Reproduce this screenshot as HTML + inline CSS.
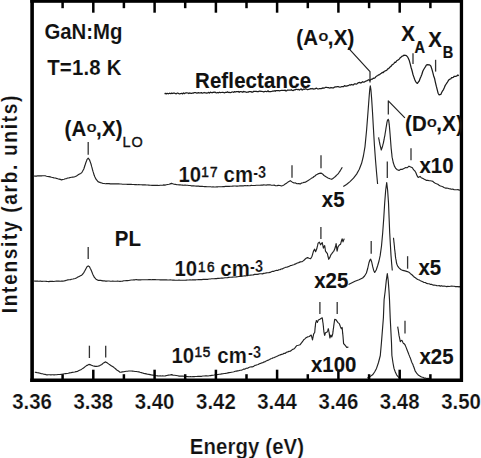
<!DOCTYPE html>
<html><head><meta charset="utf-8"><title>GaN:Mg PL</title>
<style>
html,body{margin:0;padding:0;background:#fff;}
svg{display:block}
text{font-family:"Liberation Sans",Arial,sans-serif;font-weight:bold;font-size:20.4px;fill:#111;stroke:#111;stroke-width:0.12px}
.sup{font-size:13.6px;letter-spacing:1.3px;font-weight:normal;stroke:#111;stroke-width:0.5px}
.supb{font-size:14.5px;font-weight:bold}
.sub{font-size:14.6px;font-weight:bold;stroke-width:0.2px}
.o{font-size:14.4px;font-weight:bold;stroke:#fff;stroke-width:0.3px}
</style></head><body>
<svg width="481" height="458" viewBox="0 0 481 458">
<rect width="481" height="458" fill="#fff"/>
<path d="M164.5,93.6 L165.4,93.4 L166.3,93.9 L167.2,93.3 L168.1,93.8 L169.0,93.5 L169.9,93.2 L170.8,93.7 L171.7,93.1 L172.6,93.5 L173.5,93.1 L174.4,93.1 L175.3,93.5 L176.2,93.9 L177.1,93.1 L178.0,93.2 L178.9,93.6 L179.8,93.9 L180.7,93.5 L181.6,93.3 L182.5,93.9 L183.4,92.9 L184.3,93.7 L185.2,93.1 L186.1,92.9 L187.0,92.9 L187.9,93.0 L188.8,93.6 L189.7,92.9 L190.6,93.3 L191.5,93.3 L192.4,93.0 L193.3,93.2 L194.2,92.6 L195.1,92.6 L196.0,92.7 L196.9,93.2 L197.8,92.9 L198.7,92.7 L199.6,93.0 L200.5,92.8 L201.4,92.6 L202.3,93.2 L203.2,93.0 L204.1,92.5 L205.0,92.8 L205.9,92.8 L206.8,93.1 L207.7,92.9 L208.6,92.4 L209.5,93.1 L210.4,92.2 L211.3,92.5 L212.2,92.8 L213.1,92.2 L214.0,92.5 L214.9,92.0 L215.8,92.7 L216.7,92.8 L217.6,92.5 L218.5,92.8 L219.4,92.2 L220.3,92.6 L221.2,92.5 L222.1,92.4 L223.0,92.3 L223.9,92.7 L224.8,92.8 L225.7,92.3 L226.6,92.4 L227.5,91.8 L228.4,92.5 L229.3,92.4 L230.2,92.7 L231.1,92.5 L232.0,91.9 L232.9,92.0 L233.8,92.3 L234.7,91.6 L235.6,92.0 L236.5,91.7 L237.4,91.6 L238.3,91.5 L239.2,92.3 L240.1,91.6 L241.0,91.7 L241.9,91.8 L242.8,92.3 L243.7,91.4 L244.6,91.8 L245.5,91.9 L246.4,92.3 L247.3,92.2 L248.2,92.2 L249.1,91.5 L250.0,91.7 L250.9,91.6 L251.8,92.1 L252.7,92.2 L253.6,91.3 L254.5,91.3 L255.4,91.3 L256.3,91.3 L257.2,91.6 L258.1,91.6 L259.0,91.3 L259.9,91.0 L260.8,91.4 L261.7,91.3 L262.6,91.5 L263.5,91.9 L264.4,91.6 L265.3,91.4 L266.2,91.5 L267.1,91.5 L268.0,90.8 L268.9,91.7 L269.8,91.6 L270.7,91.6 L271.6,91.5 L272.5,91.1 L273.4,91.1 L274.3,90.7 L275.2,91.3 L276.1,90.6 L277.0,90.6 L277.9,90.7 L278.8,90.7 L279.7,90.8 L280.6,90.5 L281.5,90.3 L282.4,90.4 L283.3,90.3 L284.2,90.5 L285.1,90.1 L286.0,91.0 L286.9,90.6 L287.8,90.0 L288.7,90.1 L289.6,90.1 L290.5,90.1 L291.4,89.7 L292.3,90.5 L293.2,90.6 L294.1,89.9 L295.0,89.9 L295.9,89.4 L296.8,89.4 L297.7,89.6 L298.6,89.4 L299.5,90.0 L300.4,89.2 L301.3,89.0 L302.2,90.0 L303.1,89.4 L304.0,89.0 L304.9,89.3 L305.8,88.7 L306.7,89.2 L307.6,89.7 L308.5,89.5 L309.4,89.2 L310.3,88.7 L311.2,88.8 L312.1,88.5 L313.0,89.1 L313.9,88.8 L314.8,89.0 L315.7,88.4 L316.6,88.2 L317.5,88.8 L318.4,89.0 L319.3,88.7 L320.2,88.6 L321.1,88.6 L322.0,88.4 L322.9,87.8 L323.8,88.1 L324.7,87.8 L325.6,87.4 L326.5,87.3 L327.4,87.5 L328.3,87.5 L329.2,87.9 L330.1,88.1 L331.0,87.5 L331.9,87.9 L332.8,87.9 L333.7,87.8 L334.6,87.1 L335.5,86.9 L336.4,86.8 L337.3,86.7 L338.2,86.6 L339.1,87.0 L340.0,87.2 L340.9,87.0 L341.8,86.5 L342.7,86.5 L343.6,86.6 L344.5,85.6 L345.4,86.1 L346.3,86.2 L347.2,85.9 L348.1,85.7 L349.0,85.2 L349.9,84.7 L350.8,85.1 L351.7,84.5 L352.6,84.8 L353.5,84.8 L354.4,83.9 L355.3,83.8 L356.2,84.2 L357.1,83.7 L358.0,82.9 L358.9,82.6 L359.8,82.4 L360.7,83.0 L361.6,82.6 L362.5,81.7 L363.4,82.2 L364.3,82.1 L365.2,81.5 L366.1,80.9 L367.0,80.9 L367.9,80.1 L368.8,79.7 L369.7,80.5 L370.6,79.8 L371.5,79.2 L372.4,79.2 L373.3,78.2 L374.2,78.3 L375.1,77.8 L376.0,76.5 L376.9,76.0 L377.8,75.5 L378.7,74.8 L379.6,74.6 L380.5,73.7 L381.4,73.3 L382.3,72.4 L383.2,72.6 L384.1,71.5 L385.0,71.0 L385.9,70.6 L386.8,70.2 L387.7,68.9 L388.6,68.7 L389.5,67.5 L390.4,66.8 L391.3,66.1 L392.2,64.7 L393.1,64.3 L394.0,63.3 L394.9,62.2 L395.8,62.3 L396.7,60.8 L397.6,60.3 L398.5,59.8 L399.4,58.8 L400.3,57.7 L401.2,57.0 L402.1,56.2 L403.0,56.0 L403.9,55.1 L404.8,55.4 L405.7,55.4 L406.6,55.8 L407.5,56.8 L408.4,58.5 L409.3,60.6 L410.2,63.9 L411.1,67.5 L412.0,70.5 L412.9,74.2 L413.8,76.9 L414.7,79.5 L415.6,81.6 L416.5,82.7 L417.4,83.4 L418.3,82.1 L419.2,81.0 L420.1,78.5 L421.0,76.5 L421.9,74.3 L422.8,71.3 L423.7,69.5 L424.6,68.0 L425.5,66.6 L426.4,65.0 L427.3,64.6 L428.2,64.8 L429.1,64.7 L430.0,65.2 L430.9,66.2 L431.8,68.9 L432.7,72.2 L433.6,75.7 L434.5,78.2 L435.4,82.4 L436.3,86.2 L437.2,89.6 L438.1,93.2 L439.0,94.8 L439.9,94.6 L440.8,94.4 L441.7,92.5 L442.6,90.8 L443.5,89.6 L444.4,87.6 L445.3,85.3 L446.2,84.0 L447.1,82.7 L448.0,81.2 L448.9,79.8 L449.8,79.2 L450.7,79.0 L451.6,77.6 L452.5,77.7 L453.4,77.2 L454.3,76.3 L455.2,76.3 L456.1,76.3 L457.0,75.9 L457.9,75.0 L458.8,75.7" fill="none" stroke="#1a1a1a" stroke-width="1.25" stroke-linejoin="round" stroke-linecap="butt"/>
<path d="M34.0,176.0 L35.2,176.1 L36.5,176.1 L37.7,175.8 L39.0,175.8 L40.2,175.8 L41.5,175.9 L42.7,175.8 L44.0,175.7 L45.2,175.8 L46.5,176.2 L47.7,176.5 L49.0,176.6 L50.2,176.9 L51.5,177.3 L52.7,177.5 L54.0,177.9 L55.3,178.0 L56.5,178.4 L57.8,178.8 L59.1,179.1 L60.3,179.4 L61.6,179.9 L62.8,179.5 L64.1,179.2 L65.3,178.7 L66.5,178.6 L67.8,178.0 L69.0,177.9 L70.3,177.5 L71.6,177.3 L72.8,177.1 L74.1,177.0 L75.4,176.5 L76.5,175.9 L77.5,175.3 L78.6,174.6 L79.6,174.0 L80.7,173.4 L81.7,172.7 L82.4,171.5 L83.1,170.2 L83.8,169.0 L84.2,167.8 L84.6,166.5 L85.0,165.3 L85.4,164.0 L85.9,162.5 L86.5,161.0 L87.0,159.5 L88.2,158.1 L89.5,159.8 L90.0,161.2 L90.5,162.6 L91.0,164.0 L91.3,165.2 L91.6,166.4 L92.0,167.6 L92.3,168.8 L92.6,170.0 L93.0,171.4 L93.4,172.6 L93.8,174.0 L94.2,175.3 L94.8,176.7 L95.4,177.9 L96.0,179.2 L97.0,180.4 L98.0,181.6 L99.2,182.1 L100.5,182.6 L101.8,183.0 L103.0,183.5 L104.2,183.5 L105.4,183.7 L106.6,183.6 L107.9,183.6 L109.1,183.6 L110.3,183.9 L111.5,183.9 L112.7,183.9 L113.9,183.8 L115.1,183.8 L116.4,183.9 L117.6,183.9 L118.8,183.9 L120.0,184.0 L121.2,184.0 L122.5,184.2 L123.8,184.3 L125.0,184.2 L126.2,184.2 L127.5,184.4 L128.8,184.3 L130.0,184.4 L131.2,184.3 L132.5,184.5 L133.8,184.5 L135.0,184.6 L136.2,184.6 L137.5,184.7 L138.8,184.6 L140.0,184.7 L141.3,184.7 L142.5,184.9 L143.8,184.8 L145.1,184.8 L146.3,185.0 L147.6,185.0 L148.8,185.1 L150.1,185.2 L151.4,185.3 L152.6,185.3 L153.9,185.3 L155.2,185.4 L156.4,185.3 L157.7,185.3 L158.9,185.5 L160.1,185.2 L161.3,185.3 L162.6,185.2 L163.8,184.9 L165.0,185.1 L166.3,184.8 L167.7,184.5 L169.0,184.3 L170.2,183.9 L171.5,183.4 L172.8,183.8 L174.0,184.1 L175.5,184.4 L177.0,184.7 L178.5,184.8 L180.0,184.8 L181.2,185.0 L182.5,185.1 L183.8,185.2 L185.0,185.1 L186.2,185.2 L187.5,185.3 L188.8,185.5 L190.0,185.5 L191.2,185.8 L192.5,185.8 L193.8,185.9 L195.0,186.0 L196.2,186.1 L197.4,186.1 L198.6,186.1 L199.8,186.4 L201.0,186.4 L202.2,186.4 L203.4,186.5 L204.6,186.6 L205.8,186.5 L207.0,186.7 L208.2,186.7 L209.4,186.7 L210.6,186.8 L211.8,187.0 L213.0,186.9 L214.2,187.0 L215.5,187.0 L216.8,186.8 L218.0,186.8 L219.2,186.7 L220.5,186.8 L221.8,186.7 L223.0,186.6 L224.2,186.6 L225.5,186.4 L226.8,186.3 L228.0,186.3 L229.2,186.4 L230.4,186.2 L231.6,186.3 L232.8,186.1 L234.0,186.0 L235.2,186.0 L236.4,186.1 L237.6,186.1 L238.8,186.0 L240.0,185.8 L241.2,185.9 L242.5,185.8 L243.8,185.8 L245.0,185.6 L246.2,185.8 L247.5,185.6 L248.8,185.7 L250.0,185.7 L251.2,185.4 L252.5,185.5 L253.8,185.5 L255.0,185.5 L256.2,185.3 L257.5,185.2 L258.8,185.2 L260.0,185.3 L261.2,185.1 L262.5,185.1 L263.8,184.9 L265.0,185.0 L266.2,185.1 L267.5,184.8 L268.8,184.9 L270.0,184.8 L271.4,185.2 L272.8,185.3 L274.2,185.1 L275.6,185.7 L277.0,185.6 L278.5,185.4 L280.0,185.5 L281.5,186.0 L282.8,185.5 L284.0,184.9 L285.2,184.0 L286.5,183.2 L287.5,182.4 L288.5,181.7 L290.3,180.7 L292.0,181.9 L294.0,183.0 L295.5,182.9 L297.0,183.7 L298.6,183.6 L300.3,183.9 L301.5,183.1 L302.8,182.8 L304.0,182.4 L305.3,182.2 L306.5,181.4 L307.8,180.7 L308.9,180.1 L309.9,179.4 L311.0,178.6 L312.0,177.9 L313.0,177.5 L314.0,176.5 L315.0,176.0 L316.0,174.9 L317.9,173.9 L319.5,173.4 L321.0,173.1 L322.5,173.9 L324.0,175.5 L326.0,176.8 L328.0,177.9 L330.0,178.8 L331.7,179.3 L332.9,178.5 L334.0,177.6 L335.4,176.5 L336.7,175.1 L337.8,174.1 L338.8,172.8 L339.6,171.6 L340.5,170.3 L341.4,168.7 L342.3,167.2" fill="none" stroke="#222" stroke-width="1.15" stroke-linejoin="round" stroke-linecap="butt"/>
<path d="M343.3,186.6 L346.5,184.5 L350.0,181.6 L353.5,178.2 L356.6,174.1 L359.3,169.3 L361.6,163.3 L363.4,156.0 L365.0,146.6 L366.6,130.0 L368.0,112.0 L369.2,96.0 L369.8,89.0 L370.3,85.8 L370.9,89.5 L371.6,98.0 L372.5,112.0 L373.4,128.0 L374.4,145.0 L375.5,160.0 L376.5,172.0 L377.6,184.0" fill="none" stroke="#222" stroke-width="1.15" stroke-linejoin="round" stroke-linecap="butt"/>
<path d="M378.6,137.4 L378.8,138.7 L379.1,140.0 L379.3,141.4 L379.6,142.7 L379.8,144.0 L380.1,145.2 L380.4,146.4 L380.7,147.6 L381.0,148.8 L381.3,150.0 L381.7,148.7 L382.2,147.3 L382.6,146.0 L382.9,144.7 L383.3,143.3 L383.6,142.0 L383.8,140.8 L384.1,139.5 L384.3,138.2 L384.5,137.0 L384.8,135.8 L385.0,134.5 L385.2,133.2 L385.4,132.0 L385.6,130.8 L385.8,129.5 L386.0,128.2 L386.2,127.0 L386.4,125.8 L386.6,124.6 L386.8,123.4 L387.0,122.2 L387.6,120.0 L388.2,119.3 L388.8,120.8 L388.9,122.1 L389.1,123.4 L389.2,124.7 L389.4,126.0 L389.5,127.2 L389.6,128.4 L389.7,129.6 L389.8,130.9 L389.9,132.1 L390.0,133.3 L390.1,134.5 L390.2,135.8 L390.3,137.1 L390.4,138.4 L390.5,139.7 L390.6,141.0 L390.7,142.3 L390.8,143.6 L390.9,144.9 L391.0,146.2 L391.1,147.5 L391.2,148.8 L391.4,150.1 L391.5,151.3 L391.6,152.6 L391.8,153.9 L391.9,155.2 L392.0,156.5 L392.2,157.7 L392.5,158.9 L392.7,160.1 L393.0,161.3 L393.2,162.5 L393.8,164.2 L394.3,165.9 L395.0,167.1 L395.7,168.4 L397.3,169.8 L399.0,170.4 L400.7,169.3 L402.4,169.3 L404.0,168.4 L405.7,167.6 L407.4,167.7 L409.0,166.2 L410.7,167.0 L412.4,167.8 L413.2,169.1 L414.0,170.1 L414.9,171.0 L415.7,172.2 L416.4,174.0 L417.0,175.6 L418.2,177.4 L420.0,176.4 L421.2,177.7 L422.5,178.3 L423.9,179.1 L425.3,179.8 L426.5,180.4 L427.8,180.3 L429.0,180.7 L430.3,180.8 L431.6,181.0 L432.9,181.4 L434.1,182.6 L435.3,183.2 L436.5,183.7 L437.8,184.2 L439.1,185.2 L440.4,186.0 L441.6,186.3 L442.8,186.7 L444.0,187.5 L445.3,188.1 L446.6,188.0 L447.9,188.3 L449.1,188.7 L450.3,188.9 L451.5,189.3 L452.8,189.1 L454.2,189.7 L455.5,189.8 L456.8,189.7 L458.0,189.5 L459.2,190.2 L460.5,189.7" fill="none" stroke="#222" stroke-width="1.15" stroke-linejoin="round" stroke-linecap="butt"/>
<path d="M34.0,281.0 L35.2,281.1 L36.5,281.0 L37.7,281.1 L38.9,281.2 L40.2,281.1 L41.4,281.3 L42.6,281.3 L43.8,281.2 L45.1,281.3 L46.3,281.4 L47.5,281.5 L48.8,281.6 L50.0,281.4 L51.3,281.4 L52.6,281.3 L53.8,281.5 L55.1,281.2 L56.4,281.1 L57.7,281.1 L59.0,281.1 L60.2,281.2 L61.5,281.1 L62.8,281.1 L64.1,280.9 L65.3,280.6 L66.6,280.2 L67.8,279.9 L69.1,279.8 L70.4,279.6 L71.6,279.2 L72.9,279.0 L74.1,278.7 L75.4,278.5 L76.7,277.8 L77.9,277.1 L79.2,276.4 L80.4,275.8 L81.7,275.2 L82.8,274.0 L83.8,272.6 L84.6,271.2 L85.4,269.7 L86.2,268.2 L87.0,266.8 L88.2,265.9 L89.5,266.8 L90.2,268.2 L91.0,269.7 L91.5,271.1 L92.1,272.5 L92.6,273.8 L93.1,274.9 L93.7,276.1 L94.2,277.2 L95.1,278.2 L96.0,279.2 L98.0,280.3 L99.2,280.3 L100.5,280.4 L101.8,280.6 L103.0,280.9 L104.2,280.8 L105.5,281.1 L106.7,281.1 L107.9,281.0 L109.1,281.0 L110.3,281.2 L111.5,281.2 L112.8,281.1 L114.0,281.2 L115.2,281.2 L116.4,281.2 L117.6,281.1 L118.8,281.3 L120.0,281.4 L121.2,281.2 L122.5,281.1 L123.8,280.8 L125.0,280.7 L126.2,280.6 L127.5,280.6 L128.8,280.5 L130.0,280.2 L131.2,280.0 L132.5,280.0 L133.8,279.8 L135.0,279.8 L136.3,279.6 L137.5,279.8 L138.8,279.8 L140.0,279.8 L141.3,279.8 L142.6,279.7 L143.8,279.7 L145.1,279.7 L146.3,279.7 L147.6,279.8 L148.9,279.6 L150.1,279.6 L151.4,279.8 L152.7,279.6 L153.9,279.6 L155.2,279.6 L156.4,279.7 L157.7,279.7 L159.0,279.8 L160.2,279.9 L161.5,279.9 L162.7,279.8 L164.0,279.8 L165.2,279.8 L166.5,279.9 L167.7,280.0 L169.0,280.0 L170.2,279.9 L171.5,280.0 L172.8,280.1 L174.0,280.1 L175.3,280.2 L176.5,280.2 L177.8,280.2 L179.0,280.1 L180.3,280.3 L181.5,280.2 L182.8,280.3 L184.0,280.2 L185.2,280.3 L186.4,280.1 L187.6,280.0 L188.8,280.0 L190.0,279.9 L191.2,280.0 L192.4,279.9 L193.6,279.8 L194.8,279.8 L196.0,279.8 L197.2,279.7 L198.4,279.6 L199.6,279.6 L200.8,279.5 L202.0,279.6 L203.2,279.3 L204.4,279.4 L205.6,279.4 L206.8,279.3 L208.0,279.3 L209.2,279.0 L210.4,279.0 L211.6,278.8 L212.9,278.7 L214.1,278.8 L215.3,278.6 L216.5,278.6 L217.7,278.4 L218.9,278.4 L220.1,278.2 L221.4,278.0 L222.6,278.1 L223.8,278.0 L225.0,277.7 L226.2,277.7 L227.5,277.6 L228.8,277.4 L230.0,277.3 L231.2,277.2 L232.5,277.1 L233.8,277.0 L235.0,277.0 L236.2,276.9 L237.5,276.7 L238.8,276.5 L240.0,276.5 L241.2,276.4 L242.4,276.1 L243.6,276.0 L244.8,275.8 L246.0,275.8 L247.2,275.6 L248.4,275.4 L249.6,275.2 L250.8,275.1 L252.0,275.0 L253.3,274.9 L254.6,274.4 L255.9,274.3 L257.2,274.4 L258.5,274.1 L259.8,273.8 L261.1,273.7 L262.4,273.9 L263.7,273.4 L265.0,273.3 L266.3,272.9 L267.5,272.7 L268.8,272.6 L270.1,272.4 L271.4,271.7 L272.6,271.3 L273.9,271.3 L275.2,270.7 L276.4,270.3 L277.7,270.5 L278.8,269.8 L280.0,269.7 L281.1,269.0 L282.3,268.9 L283.4,268.2 L284.6,267.7 L285.7,267.2 L286.9,267.1 L288.0,266.7 L289.2,266.4 L290.3,265.6 L291.5,265.5 L292.6,265.0 L293.8,264.7 L295.0,264.1 L296.2,263.6 L297.5,263.0 L298.7,262.6 L300.3,261.9 L301.9,261.8 L302.9,261.1 L304.0,260.3 L305.0,259.2 L306.2,258.2 L307.5,257.6 L309.1,258.3 L310.6,258.7 L311.8,256.7 L312.2,255.6 L312.6,254.3 L312.9,253.1 L313.3,251.8 L313.7,250.6 L314.7,249.2 L315.1,250.6 L315.6,251.7 L316.2,250.2 L316.8,248.8 L317.1,247.4 L317.5,245.9 L317.8,244.5 L318.1,243.1 L319.3,242.2 L320.0,243.5 L320.6,244.8 L321.4,243.6 L322.2,242.5 L322.5,243.9 L322.8,245.2 L323.1,246.7 L323.4,248.1 L324.0,246.7 L324.7,245.7 L324.9,247.0 L325.1,248.4 L325.3,249.8 L325.5,251.2 L326.4,252.4 L327.4,253.7 L327.7,255.1 L328.0,256.5 L328.4,257.9 L328.7,259.3 L329.9,257.4 L330.5,255.7 L331.2,254.3 L332.0,253.3 L332.9,252.1 L333.7,251.3 L334.4,249.7 L335.1,248.1 L335.4,246.6 L335.8,245.2 L336.1,243.6 L336.3,244.9 L336.4,246.2 L336.6,247.4 L336.8,248.7 L336.9,250.0 L337.1,251.2 L337.4,249.8 L337.7,248.2 L338.0,246.8 L339.3,245.0 L340.5,244.3 L340.9,242.8 L341.3,241.5 L341.7,240.1 L342.1,238.8 L342.6,240.2 L343.0,241.9 L343.6,240.3 L344.3,238.6" fill="none" stroke="#222" stroke-width="1.15" stroke-linejoin="round" stroke-linecap="butt"/>
<path d="M348.5,284.6 L355.0,281.3 L359.0,279.8 L362.6,278.0 L364.6,276.0 L366.4,273.0 L367.7,268.5 L368.9,263.0 L369.8,260.2 L370.7,259.2 L371.7,262.0 L372.7,266.7 L373.7,270.4 L374.7,272.5 L376.2,270.0 L377.7,265.5 L379.0,261.0 L380.2,255.4 L381.5,246.0 L382.7,232.8 L383.7,219.0 L384.7,202.7 L385.7,190.0 L386.7,182.6 L387.6,190.0 L388.5,202.7 L389.1,218.0 L389.7,232.8 L390.4,245.0 L391.0,255.4 L391.7,264.0 L392.3,270.5" fill="none" stroke="#222" stroke-width="1.15" stroke-linejoin="round" stroke-linecap="butt"/>
<path d="M393.5,237.8 L393.6,239.1 L393.8,240.5 L393.9,241.8 L394.1,243.2 L394.2,244.5 L394.4,246.0 L394.5,247.4 L394.6,248.9 L394.8,250.4 L395.0,251.8 L395.1,253.2 L395.3,254.7 L395.4,256.1 L395.6,257.5 L395.8,258.9 L396.1,260.2 L396.3,261.6 L396.5,263.0 L397.1,264.7 L397.7,266.1 L399.0,267.9 L400.8,269.5 L402.8,270.4 L405.0,270.9 L407.3,271.6 L409.4,272.6 L410.5,273.7 L411.6,274.4 L412.6,275.5 L413.5,276.2 L414.4,277.3 L415.4,277.8 L416.6,278.7 L417.8,279.5 L419.1,279.9 L420.4,280.8 L421.6,281.2 L422.8,281.8 L424.0,282.5 L425.3,282.5 L426.7,283.4 L428.0,283.7 L429.2,283.8 L430.5,284.4 L431.8,284.4 L433.0,285.1 L434.2,285.1 L435.5,285.2 L436.8,285.6 L438.0,285.7 L439.2,285.6 L440.4,286.1 L441.6,285.7 L442.8,286.3 L444.0,286.0 L445.3,286.3 L446.6,286.6 L447.9,286.4 L449.2,286.5 L450.5,286.3 L451.8,286.1 L453.0,286.2 L454.2,286.3 L455.5,286.6 L456.8,286.5 L458.0,286.6 L459.2,286.9 L460.5,286.4" fill="none" stroke="#222" stroke-width="1.15" stroke-linejoin="round" stroke-linecap="butt"/>
<path d="M34.8,372.2 L36.1,372.4 L37.4,372.8 L38.7,372.9 L40.0,373.2 L41.3,373.6 L42.5,373.8 L43.8,374.2 L45.1,374.4 L46.4,374.8 L47.7,374.8 L49.0,374.7 L50.3,374.8 L51.5,374.8 L52.8,374.7 L54.1,374.9 L55.4,374.7 L56.7,374.7 L58.0,374.5 L59.3,374.5 L60.6,374.4 L61.9,374.2 L63.1,374.0 L64.4,373.8 L65.7,373.6 L67.0,373.5 L68.3,373.3 L69.6,372.9 L70.9,372.7 L72.2,372.4 L73.4,372.3 L74.7,372.0 L76.0,371.6 L77.3,371.5 L78.5,370.8 L79.6,370.3 L80.8,369.8 L81.8,369.1 L82.8,368.4 L83.8,367.8 L85.2,366.6 L86.5,365.6 L87.7,365.1 L88.9,364.4 L90.8,364.9 L92.8,365.8 L94.1,366.1 L95.4,366.4 L96.7,366.4 L97.9,366.2 L99.8,365.6 L101.8,364.5 L102.7,363.6 L103.6,362.9 L105.2,361.9 L106.7,362.5 L108.2,363.6 L109.5,364.6 L110.8,365.4 L112.1,366.2 L113.4,367.0 L114.4,367.9 L115.5,368.8 L116.5,369.7 L117.7,370.6 L118.8,371.3 L120.0,372.2 L121.2,372.1 L122.5,371.9 L123.8,371.7 L125.0,371.5 L126.2,371.3 L127.5,371.2 L128.8,371.0 L130.0,371.0 L131.3,371.0 L132.5,371.1 L133.8,371.3 L135.1,371.5 L136.3,371.5 L137.6,371.8 L138.8,371.9 L140.1,372.3 L141.3,372.6 L142.6,373.0 L143.8,373.4 L145.1,373.6 L146.3,373.9 L147.6,374.3 L148.9,374.4 L150.1,374.6 L151.4,374.9 L152.6,375.1 L153.9,375.3 L155.2,375.5 L156.4,375.8 L157.7,375.9 L158.9,376.0 L160.2,375.9 L161.4,376.0 L162.7,375.9 L163.9,376.0 L165.2,375.9 L166.8,375.5 L168.5,375.1 L170.0,375.0 L171.5,374.6 L173.0,375.1 L174.5,375.3 L176.2,375.5 L177.8,375.8 L179.1,376.1 L180.3,376.0 L181.6,376.1 L182.8,376.1 L184.1,376.2 L185.4,376.4 L186.6,376.5 L187.9,376.6 L189.1,376.7 L190.4,376.6 L191.7,376.7 L192.9,376.6 L194.2,376.6 L195.4,376.5 L196.7,376.5 L197.9,376.3 L199.2,376.4 L200.5,376.3 L201.7,376.3 L203.0,376.0 L204.2,376.0 L205.5,375.9 L206.7,375.8 L208.0,376.0 L209.2,375.8 L210.5,375.6 L211.8,375.4 L213.0,375.2 L214.2,375.0 L215.5,374.7 L216.8,374.6 L218.0,374.5 L219.2,374.2 L220.5,374.1 L221.8,373.9 L223.0,373.7 L224.2,373.5 L225.5,373.4 L226.7,373.2 L227.9,372.9 L229.1,372.6 L230.3,372.5 L231.5,372.2 L232.8,372.0 L234.0,371.7 L235.2,371.3 L236.4,371.1 L237.6,370.9 L238.8,370.7 L240.0,370.3 L241.3,370.2 L242.5,369.7 L243.8,369.1 L245.0,369.1 L246.3,368.2 L247.6,368.3 L248.8,367.5 L250.1,367.0 L251.3,366.8 L252.6,366.8 L253.7,366.4 L254.9,365.4 L256.0,365.2 L257.1,364.8 L258.2,364.5 L259.4,363.7 L260.5,363.4 L261.6,362.9 L262.7,362.7 L263.9,361.9 L265.0,361.9 L266.2,360.9 L267.3,360.4 L268.5,360.1 L269.6,359.5 L270.8,358.7 L271.9,358.5 L273.1,357.7 L274.2,357.6 L275.4,357.0 L276.5,356.5 L277.7,355.9 L279.0,355.3 L280.2,354.9 L281.5,354.4 L282.7,354.3 L284.0,353.3 L285.3,353.3 L286.5,352.3 L287.8,351.9 L289.0,351.4 L290.3,351.2 L291.5,350.3 L292.6,349.4 L293.8,349.0 L295.0,347.9 L295.9,346.7 L296.9,345.5 L298.4,345.2 L300.0,344.8 L300.9,343.6 L301.9,342.3 L302.8,341.1 L303.7,339.8 L304.6,339.1 L305.6,338.1 L307.5,336.9 L309.3,336.5 L310.2,335.8 L311.2,335.0 L311.5,336.2 L311.9,337.3 L312.2,338.6 L312.5,340.0 L312.7,338.6 L313.0,337.4 L313.2,336.1 L313.5,335.0 L313.7,333.8 L314.7,332.5 L314.8,331.5 L314.9,330.3 L315.0,329.1 L315.1,327.9 L315.3,326.7 L315.4,325.5 L315.5,324.3 L315.6,323.1 L316.0,321.9 L316.4,320.5 L317.4,322.4 L317.9,321.0 L318.4,320.0 L319.9,319.3 L321.0,318.5 L322.2,317.8 L322.4,318.9 L322.6,320.1 L322.7,321.3 L322.9,322.5 L323.1,323.7 L323.2,325.0 L323.4,326.4 L323.5,327.7 L323.6,329.1 L323.8,330.5 L323.9,331.8 L324.2,333.1 L324.4,334.3 L324.7,335.4 L325.1,334.1 L325.5,332.7 L327.2,331.9 L327.8,330.4 L328.3,328.7 L328.6,330.0 L328.8,331.2 L329.1,332.4 L329.3,333.7 L329.5,335.2 L329.7,336.6 L329.9,338.0 L330.4,336.5 L330.9,335.0 L331.8,336.9 L332.3,335.3 L332.8,333.7 L332.9,332.4 L333.1,331.2 L333.2,329.9 L333.4,328.7 L333.6,327.5 L333.7,326.2 L333.9,324.8 L334.1,323.4 L334.3,322.1 L334.5,320.7 L334.7,319.3 L336.1,319.9 L337.1,321.3 L338.0,322.6 L339.3,323.6 L339.9,325.3 L340.5,326.9 L341.4,328.7 L342.1,327.4 L342.2,328.7 L342.4,329.9 L342.5,331.2 L342.6,332.4 L342.7,333.7 L342.9,335.0 L343.0,336.2 L343.1,337.4 L343.2,338.7 L343.3,339.9 L343.4,341.1 L343.5,342.4 L343.6,343.6 L344.9,345.0 L345.8,346.2 L346.7,347.4 L348.4,347.1" fill="none" stroke="#222" stroke-width="1.15" stroke-linejoin="round" stroke-linecap="butt"/>
<path d="M367.4,378.0 L370.0,376.6 L372.6,374.8 L374.6,372.0 L376.5,368.4 L378.5,362.5 L380.3,355.5 L381.4,343.0 L383.4,317.8 L384.1,299.8 L385.2,291.0 L386.3,280.4 L387.3,273.5 L388.2,280.4 L389.0,291.0 L389.5,299.8 L390.2,317.8 L391.5,343.0 L391.9,355.5 L393.0,363.0 L394.0,368.4 L395.3,372.0 L396.6,374.8 L398.0,376.6 L399.7,378.0" fill="none" stroke="#222" stroke-width="1.15" stroke-linejoin="round" stroke-linecap="butt"/>
<path d="M397.7,326.6 L397.9,328.0 L398.2,329.6 L398.4,331.0 L398.6,332.5 L398.8,333.9 L399.0,335.4 L399.4,337.1 L399.7,338.7 L400.0,340.2 L400.3,341.7 L401.2,340.5 L402.0,340.4 L402.8,342.2 L403.5,343.5 L404.4,343.9 L405.3,345.4 L405.9,346.9 L406.5,348.4 L407.1,350.1 L407.8,351.7 L408.4,353.2 L409.0,354.9 L409.6,356.4 L410.3,357.9 L410.7,359.1 L411.1,360.3 L411.5,361.5 L412.1,362.9 L412.8,364.3 L413.4,366.0 L414.0,367.5 L414.6,369.3 L415.1,370.9 L416.1,372.3 L417.0,373.7 L418.0,374.7 L419.0,375.6 L420.2,376.2 L421.5,377.0 L422.8,377.3 L424.1,378.1 L425.4,378.0 L426.7,378.5 L428.0,378.4 L429.3,378.6" fill="none" stroke="#222" stroke-width="1.15" stroke-linejoin="round" stroke-linecap="butt"/>
<line x1="88.2" y1="142" x2="88.2" y2="154.7" stroke="#333" stroke-width="1.3"/>
<line x1="292" y1="165.3" x2="292" y2="177.8" stroke="#333" stroke-width="1.3"/>
<line x1="321" y1="155.2" x2="321" y2="168.3" stroke="#333" stroke-width="1.3"/>
<line x1="411" y1="148.3" x2="411" y2="160.3" stroke="#333" stroke-width="1.3"/>
<line x1="387.3" y1="161.6" x2="387.3" y2="178" stroke="#333" stroke-width="1.3"/>
<line x1="88.2" y1="247" x2="88.2" y2="258.9" stroke="#333" stroke-width="1.3"/>
<line x1="320.9" y1="226.9" x2="320.9" y2="238.9" stroke="#333" stroke-width="1.3"/>
<line x1="371.2" y1="241" x2="371.2" y2="253.7" stroke="#333" stroke-width="1.3"/>
<line x1="407.6" y1="256.2" x2="407.6" y2="268.7" stroke="#333" stroke-width="1.3"/>
<line x1="89.4" y1="345.7" x2="89.4" y2="358" stroke="#333" stroke-width="1.3"/>
<line x1="105.7" y1="345.7" x2="105.7" y2="357.5" stroke="#333" stroke-width="1.3"/>
<line x1="319.9" y1="302" x2="319.9" y2="313.9" stroke="#333" stroke-width="1.3"/>
<line x1="337.2" y1="302" x2="337.2" y2="313.9" stroke="#333" stroke-width="1.3"/>
<line x1="405" y1="320.8" x2="405" y2="333.4" stroke="#333" stroke-width="1.3"/>
<line x1="413" y1="53.3" x2="413" y2="64" stroke="#333" stroke-width="1.3"/>
<line x1="435.6" y1="59.8" x2="435.6" y2="71.6" stroke="#333" stroke-width="1.3"/>
<path d="M348.0,47.7 L370.0,71.6 L370.0,82.5" fill="none" stroke="#222" stroke-width="1.2" stroke-linejoin="round" stroke-linecap="butt"/>
<path d="M388.3,114.6 L388.3,100.8 L404.9,117.9" fill="none" stroke="#222" stroke-width="1.2" stroke-linejoin="round" stroke-linecap="butt"/>
<rect x="30.3" y="0" width="3.6" height="382" fill="#000"/>
<rect x="459.8" y="0" width="3.3" height="382" fill="#000"/>
<rect x="30.3" y="0" width="432.5" height="2.8" fill="#000"/>
<rect x="30.3" y="378.5" width="432.5" height="3.5" fill="#000"/>
<line x1="62.6" y1="2" x2="62.6" y2="8.2" stroke="#000" stroke-width="2.5"/>
<line x1="62.6" y1="374.2" x2="62.6" y2="379" stroke="#000" stroke-width="2.5"/>
<line x1="93.3" y1="2" x2="93.3" y2="12.7" stroke="#000" stroke-width="2.5"/>
<line x1="93.3" y1="369.7" x2="93.3" y2="379" stroke="#000" stroke-width="2.5"/>
<line x1="123.9" y1="2" x2="123.9" y2="8.2" stroke="#000" stroke-width="2.5"/>
<line x1="123.9" y1="374.2" x2="123.9" y2="379" stroke="#000" stroke-width="2.5"/>
<line x1="154.6" y1="2" x2="154.6" y2="12.7" stroke="#000" stroke-width="2.5"/>
<line x1="154.6" y1="369.7" x2="154.6" y2="379" stroke="#000" stroke-width="2.5"/>
<line x1="185.2" y1="2" x2="185.2" y2="8.2" stroke="#000" stroke-width="2.5"/>
<line x1="185.2" y1="374.2" x2="185.2" y2="379" stroke="#000" stroke-width="2.5"/>
<line x1="215.9" y1="2" x2="215.9" y2="12.7" stroke="#000" stroke-width="2.5"/>
<line x1="215.9" y1="369.7" x2="215.9" y2="379" stroke="#000" stroke-width="2.5"/>
<line x1="246.5" y1="2" x2="246.5" y2="8.2" stroke="#000" stroke-width="2.5"/>
<line x1="246.5" y1="374.2" x2="246.5" y2="379" stroke="#000" stroke-width="2.5"/>
<line x1="277.1" y1="2" x2="277.1" y2="12.7" stroke="#000" stroke-width="2.5"/>
<line x1="277.1" y1="369.7" x2="277.1" y2="379" stroke="#000" stroke-width="2.5"/>
<line x1="307.8" y1="2" x2="307.8" y2="8.2" stroke="#000" stroke-width="2.5"/>
<line x1="307.8" y1="374.2" x2="307.8" y2="379" stroke="#000" stroke-width="2.5"/>
<line x1="338.4" y1="2" x2="338.4" y2="12.7" stroke="#000" stroke-width="2.5"/>
<line x1="338.4" y1="369.7" x2="338.4" y2="379" stroke="#000" stroke-width="2.5"/>
<line x1="369.1" y1="2" x2="369.1" y2="8.2" stroke="#000" stroke-width="2.5"/>
<line x1="369.1" y1="374.2" x2="369.1" y2="379" stroke="#000" stroke-width="2.5"/>
<line x1="399.7" y1="2" x2="399.7" y2="12.7" stroke="#000" stroke-width="2.5"/>
<line x1="399.7" y1="369.7" x2="399.7" y2="379" stroke="#000" stroke-width="2.5"/>
<line x1="430.4" y1="2" x2="430.4" y2="8.2" stroke="#000" stroke-width="2.5"/>
<line x1="430.4" y1="374.2" x2="430.4" y2="379" stroke="#000" stroke-width="2.5"/>
<text transform="translate(17.0,313.2) rotate(-90) scale(1,1.16)" textLength="217.5" lengthAdjust="spacing" style="font-size:19px;stroke:#fff;stroke-width:0.1px">Intensity (arb. units)</text>
<text transform="translate(32.0,409.1) scale(1,1.1)" text-anchor="middle" style="letter-spacing:0px;stroke:#fff;stroke-width:0.2px">3.36</text>
<text transform="translate(93.3,409.1) scale(1,1.1)" text-anchor="middle" style="letter-spacing:0px;stroke:#fff;stroke-width:0.2px">3.38</text>
<text transform="translate(154.6,409.1) scale(1,1.1)" text-anchor="middle" style="letter-spacing:0px;stroke:#fff;stroke-width:0.2px">3.40</text>
<text transform="translate(215.9,409.1) scale(1,1.1)" text-anchor="middle" style="letter-spacing:0px;stroke:#fff;stroke-width:0.2px">3.42</text>
<text transform="translate(277.1,409.1) scale(1,1.1)" text-anchor="middle" style="letter-spacing:0px;stroke:#fff;stroke-width:0.2px">3.44</text>
<text transform="translate(338.4,409.1) scale(1,1.1)" text-anchor="middle" style="letter-spacing:0px;stroke:#fff;stroke-width:0.2px">3.46</text>
<text transform="translate(399.7,409.1) scale(1,1.1)" text-anchor="middle" style="letter-spacing:0px;stroke:#fff;stroke-width:0.2px">3.48</text>
<text transform="translate(461.0,409.1) scale(1,1.1)" text-anchor="middle" style="letter-spacing:0px;stroke:#fff;stroke-width:0.2px">3.50</text>
<text transform="translate(247.0,454.0) scale(1,1.09)" text-anchor="middle" style="letter-spacing:0.1px;stroke:#fff;stroke-width:0.2px">Energy (eV)</text>
<text transform="translate(44.4,38.9) scale(1,1.1)" style="stroke:#fff;stroke-width:0.08px">GaN:Mg</text>
<text transform="translate(47.2,74.8) scale(1,1.1)" style="letter-spacing:0.2px;stroke:#fff;stroke-width:0.08px">T=1.8 K</text>
<text transform="translate(195.0,88.1) scale(1,1.1)" style="letter-spacing:0.15px">Reflectance</text>
<g><text transform="translate(296.3,45.2) scale(1,1.1)" style="letter-spacing:0.2px">(A</text><text transform="translate(318.2,41.1) scale(1.15,1.0)" style="font-size:14.6px;stroke:#fff;stroke-width:0.15px">o</text><text transform="translate(327.7,45.2) scale(1,1.1)" style="letter-spacing:0.3px">,X)</text></g>
<g><text transform="translate(401.2,40.7) scale(1,1.1)" style="stroke:#111;stroke-width:0.15px">X</text><text transform="translate(414.5,53.0) scale(1,1.1)" class="sub">A</text></g>
<g><text transform="translate(428.3,47.2) scale(1,1.1)" style="stroke:#111;stroke-width:0.15px">X</text><text transform="translate(442.7,58.0) scale(1,1.1)" class="sub">B</text></g>
<g><text transform="translate(404.9,131.3) scale(1,1.1)" style="letter-spacing:0.2px">(D</text><text transform="translate(426.8,127.2) scale(1.15,1.0)" style="font-size:14.6px;stroke:#fff;stroke-width:0.15px">o</text><text transform="translate(436.3,131.3) scale(1,1.1)" style="letter-spacing:0.3px">,X)</text></g>
<g><text transform="translate(64.6,135.9) scale(1,1.1)" style="letter-spacing:0.2px">(A</text><text transform="translate(86.5,131.8) scale(1.15,1.0)" style="font-size:14.6px;stroke:#fff;stroke-width:0.15px">o</text><text transform="translate(96.0,135.9) scale(1,1.1)" style="letter-spacing:0.3px">,X)</text><text x="122.5" y="146.5" style="font-size:14.5px;font-weight:normal;letter-spacing:0.9px;stroke:#111;stroke-width:0.35px">LO</text></g>
<text transform="translate(178.5,181.6) scale(1,1.12)" style="stroke:#fff;stroke-width:0.15px">10<tspan class="sup" dx="0.1" dy="-4.0" style="letter-spacing:1.3px">17</tspan><tspan dy="4.0" dx="-1.1" style="letter-spacing:0"> cm</tspan><tspan class="supb" dx="0.2" dy="-3.2">-3</tspan></text>
<text transform="translate(174.5,275.6) scale(1,1.1)" style="stroke:#fff;stroke-width:0.15px">10<tspan class="sup" dx="0.9" dy="-3.7" style="letter-spacing:1.3px">16</tspan><tspan dy="3.7" dx="-1.1" style="letter-spacing:0"> cm</tspan><tspan class="supb" dx="0.2" dy="-3.3">-3</tspan></text>
<text transform="translate(171.5,362.7) scale(1,1.1)" style="stroke:#fff;stroke-width:0.15px">10<tspan class="sup" dx="0.4" dy="-5.5" style="letter-spacing:0.5px">15</tspan><tspan dy="5.5" dx="1.0" style="letter-spacing:0"> cm</tspan><tspan class="supb" dx="1.2" dy="-4.5">-3</tspan></text>
<text transform="translate(321.8,207.0) scale(1,1.1)">x5</text>
<text transform="translate(419.5,173.1) scale(1,1.1)">x10</text>
<text transform="translate(114.8,246) scale(1,1.1)">PL</text>
<text transform="translate(314.2,288.0) scale(1,1.1)">x25</text>
<text transform="translate(418.5,275.4) scale(1,1.1)">x5</text>
<text transform="translate(311,372.0) scale(1,1.1)">x100</text>
<text transform="translate(419.5,364.4) scale(1,1.1)">x25</text>
</svg></body></html>
